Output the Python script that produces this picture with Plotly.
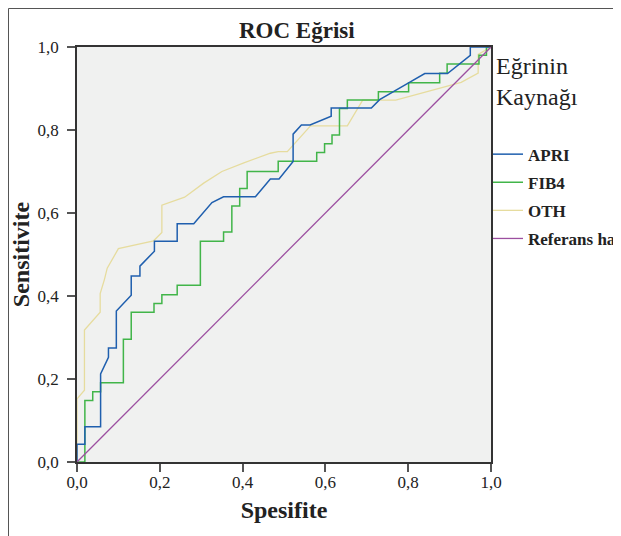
import plotly.graph_objects as go

# ROC curve vertices (1 - Specificity, Sensitivity)
apri_fpr = [0, 0, 0.019, 0.019, 0.057, 0.057, 0.076, 0.076, 0.095, 0.095, 0.131, 0.131,
            0.152, 0.152, 0.187, 0.187, 0.242, 0.242, 0.282, 0.326, 0.354, 0.431, 0.467,
            0.488, 0.522, 0.522, 0.542, 0.563, 0.614, 0.614, 0.711, 0.731, 0.802, 0.840,
            0.895, 0.950, 0.950, 1.0]
apri_tpr = [0, 0.043, 0.043, 0.085, 0.085, 0.212, 0.252, 0.275, 0.275, 0.364, 0.402, 0.448,
            0.448, 0.472, 0.508, 0.532, 0.532, 0.574, 0.574, 0.625, 0.639, 0.639, 0.682,
            0.682, 0.724, 0.790, 0.812, 0.812, 0.833, 0.853, 0.853, 0.873, 0.914, 0.936,
            0.936, 0.980, 1.0, 1.0]

fib4_fpr = [0, 0.019, 0.019, 0.038, 0.038, 0.057, 0.057, 0.112, 0.112, 0.131, 0.131, 0.186,
            0.186, 0.205, 0.205, 0.242, 0.242, 0.298, 0.298, 0.354, 0.354, 0.374, 0.374,
            0.393, 0.393, 0.411, 0.411, 0.486, 0.486, 0.579, 0.579, 0.598, 0.598, 0.616,
            0.616, 0.634, 0.634, 0.653, 0.653, 0.728, 0.728, 0.801, 0.801, 0.876, 0.876,
            0.894, 0.894, 0.971, 0.971, 0.989, 0.989, 1.0]
fib4_tpr = [0, 0, 0.148, 0.148, 0.169, 0.169, 0.191, 0.191, 0.296, 0.296, 0.361, 0.361,
            0.382, 0.382, 0.403, 0.403, 0.426, 0.426, 0.532, 0.532, 0.554, 0.554, 0.617,
            0.617, 0.659, 0.659, 0.700, 0.700, 0.725, 0.725, 0.746, 0.746, 0.767, 0.767,
            0.788, 0.788, 0.852, 0.852, 0.872, 0.872, 0.892, 0.892, 0.914, 0.914, 0.937,
            0.937, 0.959, 0.959, 0.980, 0.980, 1.0, 1.0]

oth_fpr = [0, 0, 0.018, 0.018, 0.056, 0.056, 0.066, 0.073, 0.100, 0.185, 0.205, 0.205,
           0.260, 0.306, 0.350, 0.403, 0.467, 0.486, 0.508, 0.564, 0.653, 0.690, 0.770,
           0.928, 0.969, 0.969, 1.0]
oth_tpr = [0, 0.152, 0.173, 0.318, 0.361, 0.406, 0.439, 0.467, 0.514, 0.533, 0.553, 0.619,
           0.638, 0.672, 0.700, 0.721, 0.744, 0.748, 0.748, 0.810, 0.810, 0.872, 0.872,
           0.915, 0.937, 0.982, 1.0]

ref_x = [0, 1]
ref_y = [0, 1]

tick_vals = [0, 0.2, 0.4, 0.6, 0.8, 1.0]
tick_text = ["0,0", "0,2", "0,4", "0,6", "0,8", "1,0"]

FONT = "Liberation Serif"

fig = go.Figure()
fig.add_trace(go.Scatter(x=oth_fpr, y=oth_tpr, mode="lines", name="<b>OTH</b>",
                         line=dict(color="#e6dc9e", width=1.3), legendrank=3, legendgroup="c"))
fig.add_trace(go.Scatter(x=fib4_fpr, y=fib4_tpr, mode="lines", name="<b>FIB4</b>",
                         line=dict(color="#41b549", width=1.5), legendrank=2, legendgroup="b"))
fig.add_trace(go.Scatter(x=apri_fpr, y=apri_tpr, mode="lines", name="<b>APRI</b>",
                         line=dict(color="#1f5fae", width=1.5), legendrank=1, legendgroup="a"))
fig.add_trace(go.Scatter(x=ref_x, y=ref_y, mode="lines", name="<b>Referans hat</b>",
                         line=dict(color="#9c4fa0", width=1.3), legendrank=4, legendgroup="d"))

axis_common = dict(
    range=[0, 1], tickvals=tick_vals, ticktext=tick_text,
    showgrid=False, zeroline=False, showline=True, mirror=True,
    linecolor="#333333", linewidth=1.5,
    ticks="outside", ticklen=8, tickcolor="#555555", tickwidth=1.5,
    tickfont=dict(family=FONT, size=17, color="#222222"),
)

# page body has an 8px margin: figure origin sits at page (8, 8)
L, T, PW, PH = 69, 39, 414, 415
fig.update_layout(
    width=621, height=536,
    margin=dict(l=L, r=621 - L - PW, t=T, b=536 - T - PH, autoexpand=False),
    paper_bgcolor="white", plot_bgcolor="#f0f1f0",
    font=dict(family=FONT, color="#222222"),
    title=dict(text="<b>ROC Eğrisi</b>", x=0.531, xref="paper", xanchor="center",
               y=1 - 22 / 536, yref="container", yanchor="middle",
               font=dict(family=FONT, size=23, color="#222222")),
    xaxis=dict(axis_common, ticklabelstandoff=-4,
               title=dict(text="<b>Spesifite</b>", standoff=10,
                          font=dict(family=FONT, size=24, color="#222222"))),
    yaxis=dict(axis_common, ticklabelstandoff=5,
               title=dict(text="<b>Sensitivite</b>", standoff=2,
                          font=dict(family=FONT, size=24, color="#222222"))),
    legend=dict(
        x=(488 - 77) / PW, xanchor="left", y=1.0 + 4 / PH, yanchor="top",
        title=dict(text="\u00a0Eğrinin<br>\u00a0Kaynağı<br> ",
                   font=dict(family=FONT, size=24, color="#222222")),
        font=dict(family=FONT, size=17, color="#222222"),
        tracegroupgap=3, bgcolor="rgba(0,0,0,0)",
    ),
    shapes=[dict(type="rect", xref="paper", yref="paper",
                 x0=(0.5 - L) / PW, x1=1.6, y0=-0.4, y1=(PH + T - 0.5) / PH,
                 line=dict(color="#555555", width=1), fillcolor="rgba(0,0,0,0)", layer="below")],
)

fig.write_html("out.html")
